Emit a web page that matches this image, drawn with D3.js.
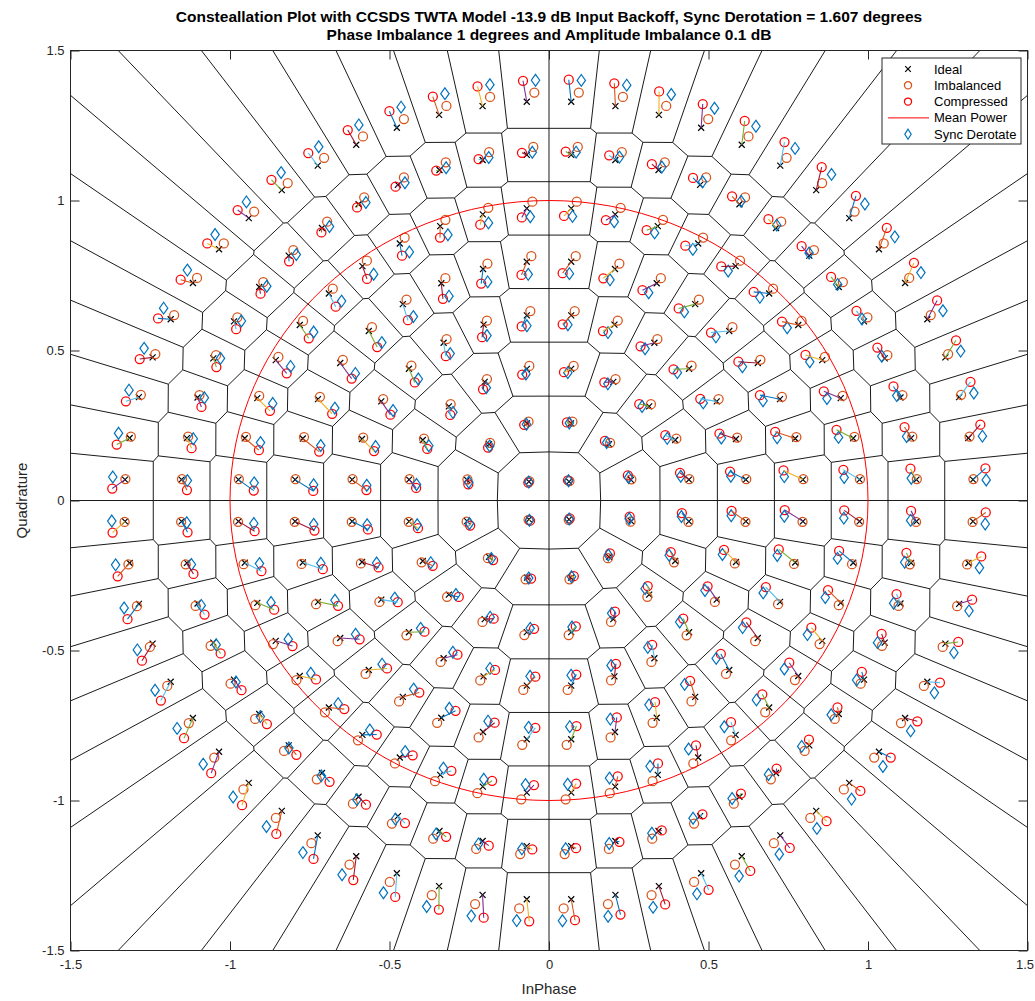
<!DOCTYPE html>
<html><head><meta charset="utf-8">
<script src="https://cdn.jsdelivr.net/npm/d3@7"></script>
<style>
body{margin:0;background:#fff}
svg{display:block}
text{font-family:"Liberation Sans",Arial,Helvetica,sans-serif}
</style>
</head><body>
<svg id="chart" width="1035" height="1001"></svg>
<script>
// 256-APSK constellation: rings of symbols (count, radius, angle of first symbol);
// symbols in each ring are numbered clockwise from the first one.
const ringCounts = [4, 12, 20, 28, 36, 44, 52, 60];
const ringRadii = [0.089, 0.266, 0.444, 0.621, 0.799, 0.976, 1.154, 1.331];
const ringStartDeg = [45, 75, 81, 83.5714, 85, 85.9091, 86.5385, 87];

// IQ impairment settings
const phaseImbalanceDeg = 1;
const amplitudeImbalanceDb = 0.1;

// TWTA output per ring: amplitude gain and phase shift (degrees)
const compressedGain = [0.99, 0.975, 0.945, 0.925, 0.927, 0.95, 0.985, 1.03];
const compressedPhaseDeg = [3.5, 3.4, 3.5, 3.1, 2.65, 2.15, 1.8, 1.4];

const syncDerotationDeg = 1.607;
const meanPowerRadius = 1;

const xTicks = [-1.5, -1, -0.5, 0, 0.5, 1, 1.5];
const yTicks = [-1.5, -1, -0.5, 0, 0.5, 1, 1.5];
const titleLines = [
  "Consteallation Plot with CCSDS TWTA Model -13.9 dB Input Backoff, Sync Derotation = 1.607 degrees",
  "Phase Imbalance 1 degrees and Amplitude Imbalance 0.1 dB"
];
const legendLabels = ["Ideal", "Imbalanced", "Compressed", "Mean Power", "Sync Derotate"];
const colorOrder = ["#0072BD", "#D95319", "#EDB120", "#7E2F8E", "#77AC30", "#4DBEEE", "#A2142F"];

const deg = Math.PI / 180;

// ---- build the symbol sets ----
const symbols = [];
ringCounts.forEach((n, r) => {
  for (let k = 0; k < n; k++) {
    const a = (ringStartDeg[r] - 360 * k / n) * deg;
    symbols.push({ ring: r, i: ringRadii[r] * Math.cos(a), q: ringRadii[r] * Math.sin(a) });
  }
});
const g = Math.pow(10, amplitudeImbalanceDb / 10);
const ph = phaseImbalanceDeg * deg;
symbols.forEach(s => {
  // imbalanced
  s.ii = s.i + g * Math.sin(ph) * s.q;
  s.iq = g * Math.cos(ph) * s.q;
  // compressed (TWTA)
  const amp = Math.hypot(s.ii, s.iq) * compressedGain[s.ring];
  const ang = Math.atan2(s.iq, s.ii) + compressedPhaseDeg[s.ring] * deg;
  s.ci = amp * Math.cos(ang);
  s.cq = amp * Math.sin(ang);
  // derotated
  const da = ang - syncDerotationDeg * deg;
  s.di = amp * Math.cos(da);
  s.dq = amp * Math.sin(da);
});

// ---- layout ----
const svg = d3.select("#chart");
const x = d3.scaleLinear().domain([-1.5, 1.5]).range([70.5, 1027.5]);
const y = d3.scaleLinear().domain([-1.5, 1.5]).range([950.5, 50.5]);
const axisColor = "#262626";

const plot = svg.append("g");

// Voronoi decision regions of the ideal symbols
const vor = d3.Delaunay.from(symbols, d => d.i, d => d.q).voronoi([-1.5, -1.5, 1.5, 1.5]);
const vp = d3.path();
vor.render({
  moveTo: (a, b) => vp.moveTo(x(a), y(b)),
  lineTo: (a, b) => vp.lineTo(x(a), y(b)),
  closePath: () => vp.closePath()
});
plot.append("path").attr("d", vp.toString()).attr("fill", "none")
  .attr("stroke", "#000").attr("stroke-width", 0.9);

// marker helpers
function xMark(sel, size, color) {
  sel.append("path")
    .attr("d", `M${-size},${-size}L${size},${size}M${-size},${size}L${size},${-size}`)
    .attr("stroke", color).attr("stroke-width", 1.2).attr("fill", "none");
}
function circleMark(sel, r, color) {
  sel.append("circle").attr("r", r).attr("fill", "none").attr("stroke", color).attr("stroke-width", 1.25);
}
function diamondMark(sel, w, h, color) {
  sel.append("path").attr("d", `M0,${-h}L${w},0L0,${h}L${-w},0Z`)
    .attr("fill", "none").attr("stroke", color).attr("stroke-width", 1.2);
}

// ideal
plot.append("g").selectAll("g").data(symbols).join("g")
  .attr("transform", d => `translate(${x(d.i)},${y(d.q)})`)
  .each(function () { xMark(d3.select(this), 3, "#000"); });
// imbalanced
plot.append("g").selectAll("g").data(symbols).join("g")
  .attr("transform", d => `translate(${x(d.ii)},${y(d.iq)})`)
  .each(function () { circleMark(d3.select(this), 4.5, colorOrder[1]); });
// compressed
plot.append("g").selectAll("g").data(symbols).join("g")
  .attr("transform", d => `translate(${x(d.ci)},${y(d.cq)})`)
  .each(function () { circleMark(d3.select(this), 4.5, "#FF0000"); });
// mean power circle
plot.append("ellipse")
  .attr("cx", x(0)).attr("cy", y(0))
  .attr("rx", x(meanPowerRadius) - x(0)).attr("ry", y(0) - y(meanPowerRadius))
  .attr("fill", "none").attr("stroke", "#FF0000").attr("stroke-width", 1);
// sync derotated
plot.append("g").selectAll("g").data(symbols).join("g")
  .attr("transform", d => `translate(${x(d.di)},${y(d.dq)})`)
  .each(function () { diamondMark(d3.select(this), 4.2, 5.9, colorOrder[0]); });
// ideal -> compressed error lines, one colour per symbol from the colour order
plot.append("g").selectAll("line").data(symbols).join("line")
  .attr("x1", d => x(d.i)).attr("y1", d => y(d.q))
  .attr("x2", d => x(d.ci)).attr("y2", d => y(d.cq))
  .attr("stroke", (d, k) => colorOrder[k % 7]).attr("stroke-width", 1.1);

// ---- axes ----
const tickFmt = d => String(d);
const ax = svg.append("g").attr("color", axisColor);
const bottom = ax.append("g").attr("transform", `translate(0,${y(-1.5)})`)
  .call(d3.axisBottom(x).tickValues(xTicks).tickFormat(tickFmt).tickSizeInner(-9).tickSizeOuter(0).tickPadding(9));
ax.append("g").attr("transform", `translate(0,${y(1.5)})`)
  .call(d3.axisTop(x).tickValues(xTicks).tickFormat("").tickSizeInner(-9).tickSizeOuter(0));
ax.append("g").attr("transform", `translate(${x(-1.5)},0)`)
  .call(d3.axisLeft(y).tickValues(yTicks).tickFormat(tickFmt).tickSizeInner(-9).tickSizeOuter(0).tickPadding(6));
ax.append("g").attr("transform", `translate(${x(1.5)},0)`)
  .call(d3.axisRight(y).tickValues(yTicks).tickFormat("").tickSizeInner(-9).tickSizeOuter(0));
ax.selectAll(".domain").remove();
ax.selectAll("text").attr("font-size", 13).attr("font-family", '"Liberation Sans",Arial,sans-serif').attr("fill", axisColor);
// keep the last bottom label inside the page
bottom.selectAll(".tick text").filter(d => d === 1.5).attr("dx", -3);
svg.append("rect").attr("x", x(-1.5)).attr("y", y(1.5))
  .attr("width", x(1.5) - x(-1.5)).attr("height", y(-1.5) - y(1.5))
  .attr("fill", "none").attr("stroke", axisColor).attr("stroke-width", 1);

// axis labels
svg.append("text").attr("x", x(0)).attr("y", 994).attr("text-anchor", "middle")
  .attr("font-size", 15).attr("fill", axisColor).text("InPhase");
svg.append("text").attr("transform", `translate(27,${y(0)}) rotate(-90)`).attr("text-anchor", "middle")
  .attr("font-size", 15).attr("fill", axisColor).text("Quadrature");

// title
svg.append("g").selectAll("text").data(titleLines).join("text")
  .attr("x", x(0)).attr("y", (d, k) => 21.5 + k * 18).attr("text-anchor", "middle")
  .attr("font-size", 15.5).attr("font-weight", "bold").attr("fill", "#000").text(d => d);

// ---- legend ----
const lg = svg.append("g").attr("transform", "translate(882,58)");
lg.append("rect").attr("width", 139).attr("height", 86).attr("fill", "#fff")
  .attr("stroke", axisColor).attr("stroke-width", 1);
const rows = lg.selectAll("g.row").data(legendLabels).join("g").attr("class", "row")
  .attr("transform", (d, k) => `translate(0,${11 + k * 16.3})`);
rows.append("text").attr("x", 52).attr("y", 4.5).attr("font-size", 13).attr("fill", "#000").text(d => d);
rows.each(function (d, k) {
  const r = d3.select(this).append("g").attr("transform", "translate(26,0)");
  if (k === 0) xMark(r, 2.8, "#000");
  if (k === 1) circleMark(r, 3.6, colorOrder[1]);
  if (k === 2) circleMark(r, 3.6, "#FF0000");
  if (k === 3) r.append("line").attr("x1", -20).attr("x2", 21).attr("stroke", "#FF0000").attr("stroke-width", 1);
  if (k === 4) diamondMark(r, 3.2, 5, colorOrder[0]);
});
</script>
</body></html>
